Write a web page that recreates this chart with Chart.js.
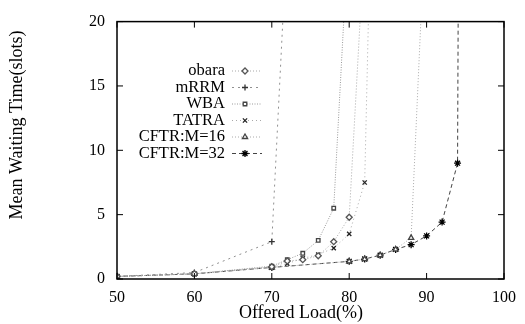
<!DOCTYPE html>
<html>
<head>
<meta charset="utf-8">
<script src="https://cdn.jsdelivr.net/npm/chart.js@4/dist/chart.umd.min.js"></script>
<style>
  html, body { margin: 0; padding: 0; background: #fff; }
  #wrap { width: 525px; height: 324px; }
</style>
</head>
<body>
<div id="wrap"><canvas id="waitChart" width="525" height="324"></canvas></div>
<script>
// offered load (%) where the simulations were run
const loads = [50, 60, 70, 72, 74, 76, 78, 80, 82, 84, 86, 88, 90, 92, 94, 96];

// mean waiting time (slots), null = no point at that load
const obara  = [0.2, 0.4, 0.95, 1.4, 1.5, 1.8, 2.9, 4.8, 26.5, null, null, null, null, null, null, null];
const mRRM   = [0.2, 0.5, 2.9, 27, null, null, null, null, null, null, null, null, null, null, null, null];
const wba    = [0.2, 0.4, 1.0, 1.5, 2.0, 3.0, 5.5, 28, null, null, null, null, null, null, null, null];
const tatra  = [0.2, 0.4, 0.9, 1.2, 1.6, 1.9, 2.4, 3.5, 7.5, 60, null, null, null, null, null, null];
const cftr16 = [0.2, 0.4, 0.9, null, null, null, null, 1.37, 1.55, 1.85, 2.3, 3.2, 30, null, null, null];
const cftr32 = [0.2, 0.4, 0.9, null, null, null, null, 1.37, 1.55, 1.85, 2.3, 2.67, 3.35, 4.42, 9.0, 300];

const xTicks = [50, 60, 70, 80, 90, 100];
const yTicks = [0, 5, 10, 15, 20];

const serif = '"Liberation Serif", "DejaVu Serif", serif';

function pts(vals) {
    return loads.map((x, i) => ({ x: x, y: vals[i] })).filter(p => p.y !== null);
}

function series(label, vals, lineColor, dash, style, markColor, radius, fillColor) {
    return {
        label: label,
        data: pts(vals),
        borderColor: lineColor,
        borderWidth: 1,
        borderDash: dash,
        pointStyle: style,
        pointRadius: radius,
        pointBorderColor: markColor,
        pointBackgroundColor: fillColor || '#fff',
        pointBorderWidth: 1.3,
        tension: 0,
        fill: false
    };
}

// gnuplot-like frame, inward ticks, axis titles and legend
const gnuplotDecor = {
    id: 'gnuplotDecor',
    afterDraw(chart) {
        const ctx = chart.ctx;
        const a = chart.chartArea;
        const xs = chart.scales.x, ys = chart.scales.y;
        ctx.save();
        ctx.strokeStyle = '#000';
        ctx.lineWidth = 1.5;
        ctx.strokeRect(a.left, a.top, a.right - a.left, a.bottom - a.top);
        ctx.lineWidth = 1;
        xTicks.forEach(v => {
            const px = xs.getPixelForValue(v);
            ctx.beginPath();
            ctx.moveTo(px, a.bottom); ctx.lineTo(px, a.bottom - 6);
            ctx.moveTo(px, a.top); ctx.lineTo(px, a.top + 6);
            ctx.stroke();
        });
        yTicks.forEach(v => {
            const py = ys.getPixelForValue(v);
            ctx.beginPath();
            ctx.moveTo(a.left, py); ctx.lineTo(a.left + 6, py);
            ctx.moveTo(a.right, py); ctx.lineTo(a.right - 6, py);
            ctx.stroke();
        });

        // axis titles
        ctx.fillStyle = '#000';
        ctx.font = '18px ' + serif;
        ctx.textAlign = 'center';
        ctx.textBaseline = 'middle';
        ctx.fillText('Offered Load(%)', 301, 313);
        ctx.save();
        ctx.translate(17, 125);
        ctx.rotate(-Math.PI / 2);
        ctx.fillText('Mean Waiting Time(slots)', 0, 0);
        ctx.restore();

        // legend
        ctx.font = '16.5px ' + serif;
        ctx.textAlign = 'right';
        chart.data.datasets.forEach((ds, i) => {
            const y = 71 + i * 16.5;
            ctx.fillStyle = '#000';
            ctx.fillText(ds.label, 225, y);
            ctx.save();
            ctx.strokeStyle = ds.borderColor;
            ctx.lineWidth = 1;
            ctx.setLineDash(ds.borderDash);
            ctx.beginPath();
            ctx.moveTo(232, y); ctx.lineTo(262, y);
            ctx.stroke();
            ctx.restore();
            ctx.save();
            ctx.strokeStyle = ds.pointBorderColor;
            ctx.fillStyle = ds.pointBackgroundColor;
            ctx.lineWidth = ds.pointBorderWidth;
            Chart.helpers.drawPoint(ctx, {
                pointStyle: ds.pointStyle,
                radius: ds.pointRadius,
                rotation: 0,
                borderWidth: ds.pointBorderWidth
            }, 245, y);
            ctx.restore();
        });
        ctx.restore();
    }
};

new Chart(document.getElementById('waitChart'), {
    type: 'line',
    data: {
        datasets: [
            series('obara', obara, '#a8a8a8', [1, 2], 'rectRot', '#555', 3),
            series('mRRM', mRRM, '#909090', [2, 4], 'cross', '#333', 3),
            series('WBA', wba, '#9a9a9a', [1, 1.5], 'rect', '#444', 2.5),
            series('TATRA', tatra, '#a8a8a8', [1, 3], 'crossRot', '#222', 3),
            series('CFTR:M=16', cftr16, '#aaaaaa', [1, 2], 'triangle', '#444', 3),
            series('CFTR:M=32', cftr32, '#444444', [4, 3], 'star', '#000', 3.5, '#000')
        ]
    },
    options: {
        responsive: false,
        animation: false,
        spanGaps: true,
        layout: { padding: { top: 12, right: 21, left: 0, bottom: 0 } },
        plugins: {
            legend: { display: false },
            tooltip: { enabled: false }
        },
        scales: {
            x: {
                type: 'linear',
                min: 50,
                max: 100,
                afterFit: s => { s.height = 45; },
                afterBuildTicks: s => { s.ticks = xTicks.map(v => ({ value: v })); },
                grid: { display: false, drawTicks: false },
                border: { display: false },
                ticks: { color: '#000', font: { family: serif, size: 16 }, padding: 9, maxRotation: 0 }
            },
            y: {
                min: 0,
                max: 20,
                afterFit: s => { s.width = 117; },
                afterBuildTicks: s => { s.ticks = yTicks.map(v => ({ value: v })); },
                grid: { display: false, drawTicks: false },
                border: { display: false },
                ticks: { color: '#000', font: { family: serif, size: 16 }, padding: 12 }
            }
        }
    },
    plugins: [gnuplotDecor]
});
</script>
</body>
</html>
